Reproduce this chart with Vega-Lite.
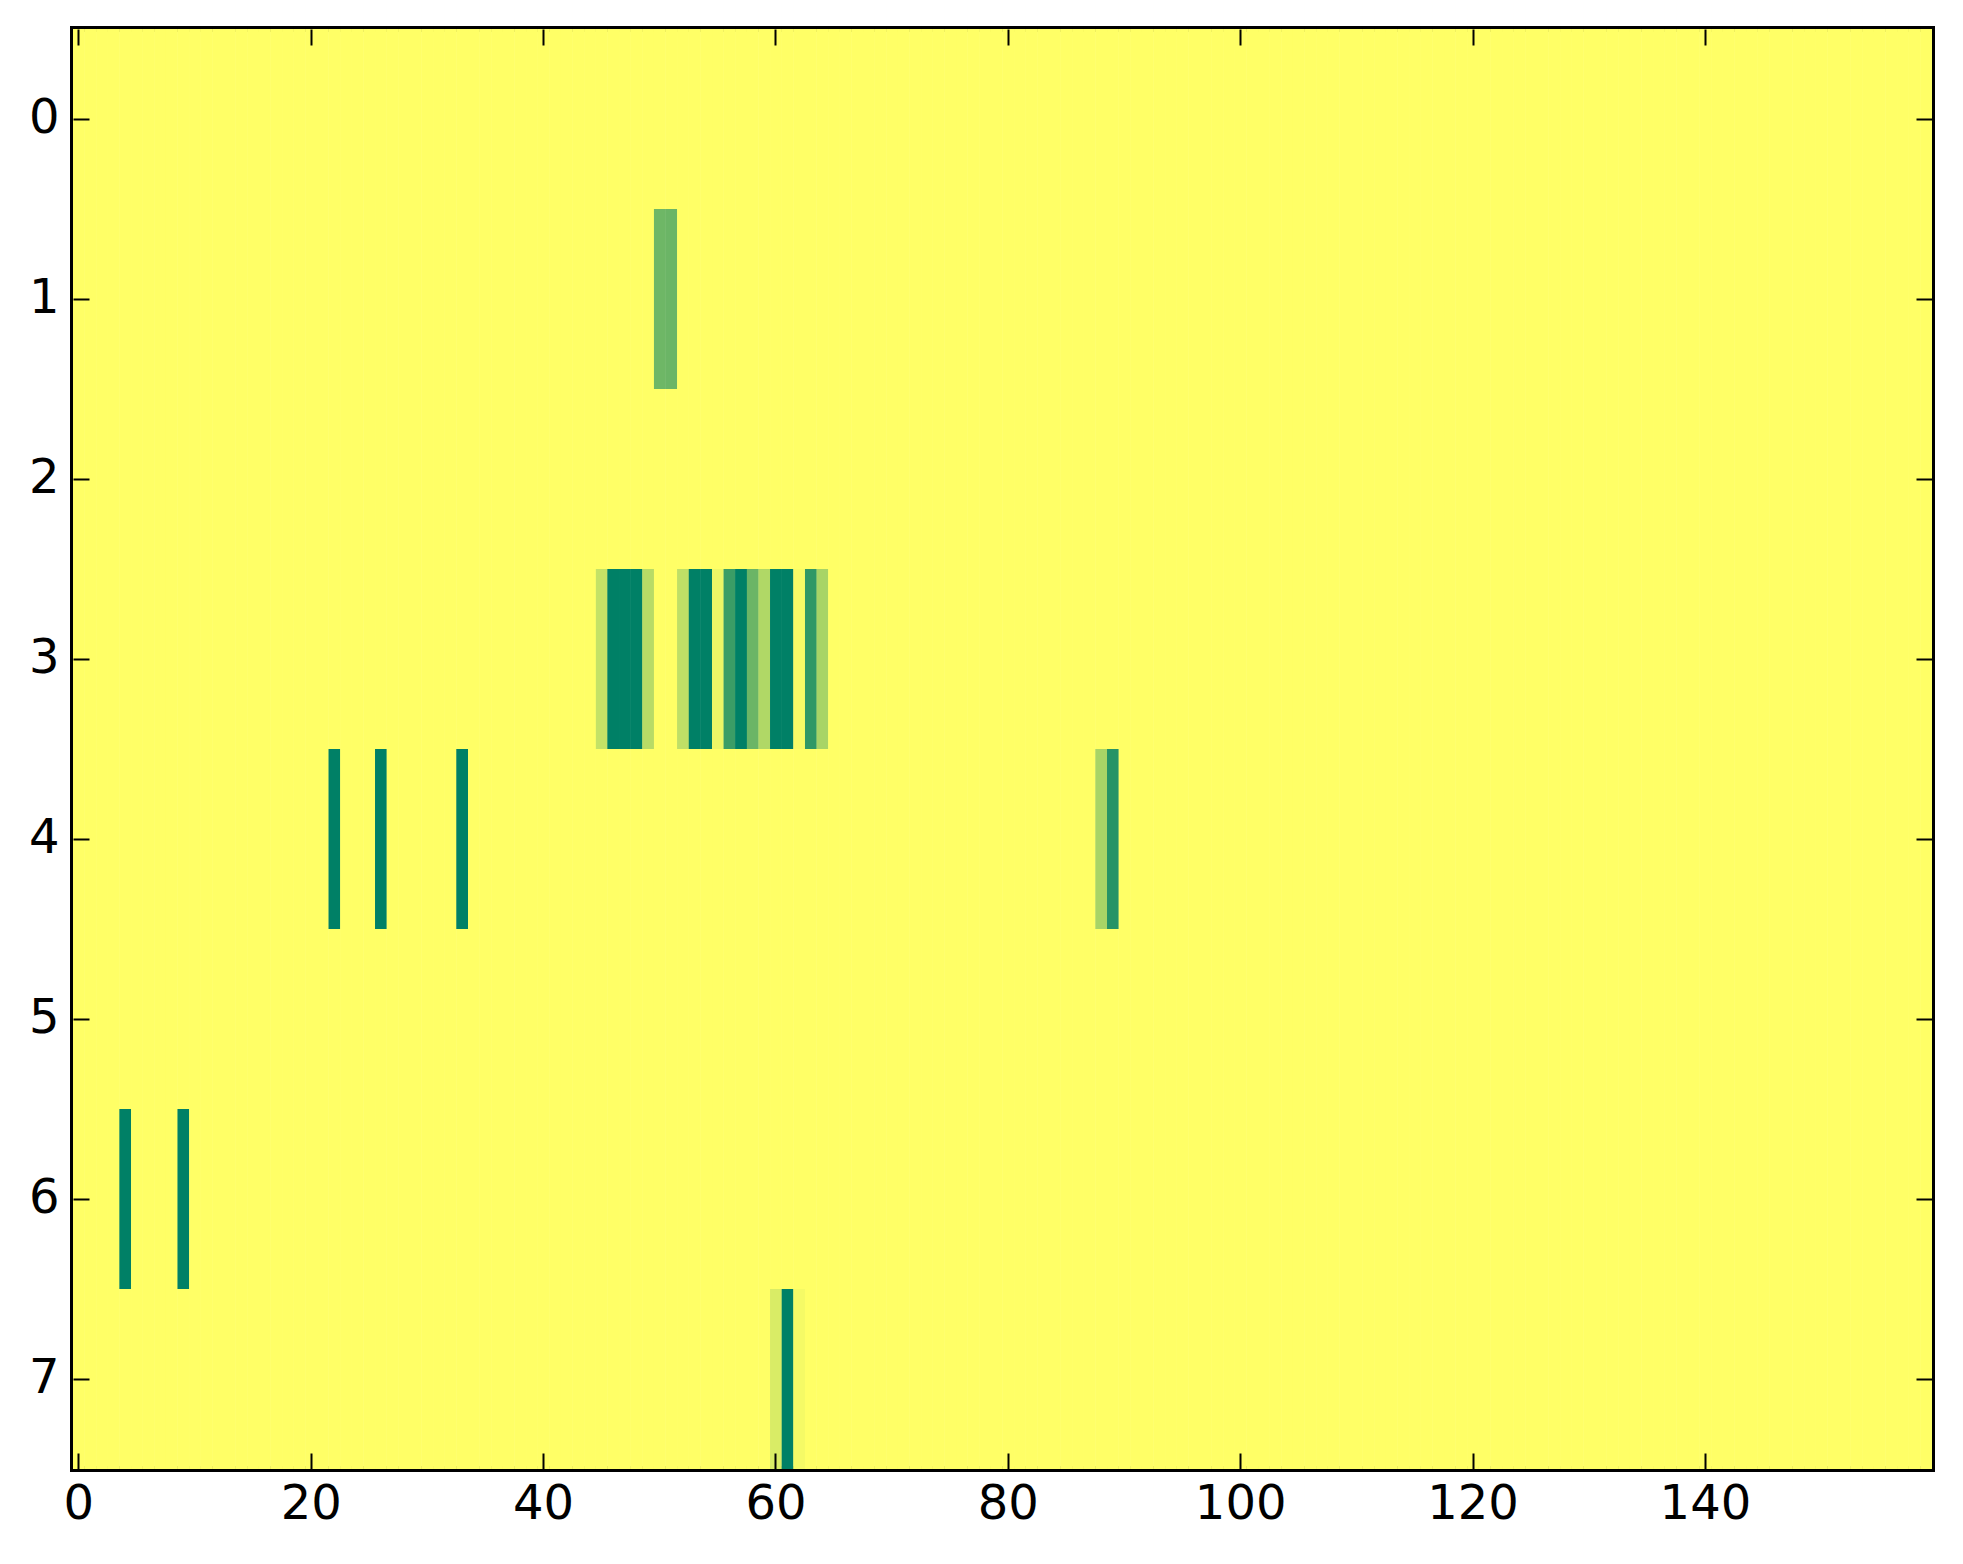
{
  "$schema": "https://vega.github.io/schema/vega-lite/v6.json",
  "width": 1859,
  "height": 1440,
  "autosize": "none",
  "padding": {"left": 73, "top": 29, "right": 31, "bottom": 95},
  "background": "white",
  "config": {
    "view": {"stroke": "black", "strokeWidth": 6},
    "axis": {
      "domain": false,
      "grid": false,
      "tickColor": "black",
      "tickWidth": 2,
      "tickSize": -16,
      "labelFont": "DejaVu Sans",
      "labelFontSize": 48,
      "labelColor": "black",
      "title": null
    }
  },
  "data": {
    "values": [
      {"r": 0, "v": [0,0,0,0,0,0,0,0,0,0, 0,0,0,0,0,0,0,0,0,0, 0,0,0,0,0,0,0,0,0,0, 0,0,0,0,0,0,0,0,0,0, 0,0,0,0,0,0,0,0,0,0, 0,0,0,0,0,0,0,0,0,0, 0,0,0,0,0,0,0,0,0,0, 0,0,0,0,0,0,0,0,0,0, 0,0,0,0,0,0,0,0,0,0, 0,0,0,0,0,0,0,0,0,0, 0,0,0,0,0,0,0,0,0,0, 0,0,0,0,0,0,0,0,0,0, 0,0,0,0,0,0,0,0,0,0, 0,0,0,0,0,0,0,0,0,0, 0,0,0,0,0,0,0,0,0,0, 0,0,0,0,0,0,0,0,0,0]},
      {"r": 1, "v": [0,0,0,0,0,0,0,0,0,0, 0,0,0,0,0,0,0,0,0,0, 0,0,0,0,0,0,0,0,0,0, 0,0,0,0,0,0,0,0,0,0, 0,0,0,0,0,0,0,0,0,0, 0.57,0.58,0,0,0,0,0,0,0,0, 0,0,0,0,0,0,0,0,0,0, 0,0,0,0,0,0,0,0,0,0, 0,0,0,0,0,0,0,0,0,0, 0,0,0,0,0,0,0,0,0,0, 0,0,0,0,0,0,0,0,0,0, 0,0,0,0,0,0,0,0,0,0, 0,0,0,0,0,0,0,0,0,0, 0,0,0,0,0,0,0,0,0,0, 0,0,0,0,0,0,0,0,0,0, 0,0,0,0,0,0,0,0,0,0]},
      {"r": 2, "v": [0,0,0,0,0,0,0,0,0,0, 0,0,0,0,0,0,0,0,0,0, 0,0,0,0,0,0,0,0,0,0, 0,0,0,0,0,0,0,0,0,0, 0,0,0,0,0,0,0,0,0,0, 0,0,0,0,0,0,0,0,0,0, 0,0,0,0,0,0,0,0,0,0, 0,0,0,0,0,0,0,0,0,0, 0,0,0,0,0,0,0,0,0,0, 0,0,0,0,0,0,0,0,0,0, 0,0,0,0,0,0,0,0,0,0, 0,0,0,0,0,0,0,0,0,0, 0,0,0,0,0,0,0,0,0,0, 0,0,0,0,0,0,0,0,0,0, 0,0,0,0,0,0,0,0,0,0, 0,0,0,0,0,0,0,0,0,0]},
      {"r": 3, "v": [0,0,0,0,0,0,0,0,0,0, 0,0,0,0,0,0,0,0,0,0, 0,0,0,0,0,0,0,0,0,0, 0,0,0,0,0,0,0,0,0,0, 0,0,0,0,0,0.23,1,1,1,0.28, 0,0,0.25,1,1,0.07,0.77,1,0.58,0.31, 1,1,0.03,0.81,0.34,0,0,0,0,0, 0,0,0,0,0,0,0,0,0,0, 0,0,0,0,0,0,0,0,0,0, 0,0,0,0,0,0,0,0,0,0, 0,0,0,0,0,0,0,0,0,0, 0,0,0,0,0,0,0,0,0,0, 0,0,0,0,0,0,0,0,0,0, 0,0,0,0,0,0,0,0,0,0, 0,0,0,0,0,0,0,0,0,0, 0,0,0,0,0,0,0,0,0,0]},
      {"r": 4, "v": [0,0,0,0,0,0,0,0,0,0, 0,0,0,0,0,0,0,0,0,0, 0,0,1,0,0,0,1,0,0,0, 0,0,0,1,0,0,0,0,0,0, 0,0,0,0,0,0,0,0,0,0, 0,0,0,0,0,0,0,0,0,0, 0,0,0,0,0,0,0,0,0,0, 0,0,0,0,0,0,0,0,0,0, 0,0,0,0,0,0,0,0,0.34,0.85, 0,0,0,0,0,0,0,0,0,0, 0,0,0,0,0,0,0,0,0,0, 0,0,0,0,0,0,0,0,0,0, 0,0,0,0,0,0,0,0,0,0, 0,0,0,0,0,0,0,0,0,0, 0,0,0,0,0,0,0,0,0,0, 0,0,0,0,0,0,0,0,0,0]},
      {"r": 5, "v": [0,0,0,0,0,0,0,0,0,0, 0,0,0,0,0,0,0,0,0,0, 0,0,0,0,0,0,0,0,0,0, 0,0,0,0,0,0,0,0,0,0, 0,0,0,0,0,0,0,0,0,0, 0,0,0,0,0,0,0,0,0,0, 0,0,0,0,0,0,0,0,0,0, 0,0,0,0,0,0,0,0,0,0, 0,0,0,0,0,0,0,0,0,0, 0,0,0,0,0,0,0,0,0,0, 0,0,0,0,0,0,0,0,0,0, 0,0,0,0,0,0,0,0,0,0, 0,0,0,0,0,0,0,0,0,0, 0,0,0,0,0,0,0,0,0,0, 0,0,0,0,0,0,0,0,0,0, 0,0,0,0,0,0,0,0,0,0]},
      {"r": 6, "v": [0,0,0,0,1,0,0,0,0,1, 0,0,0,0,0,0,0,0,0,0, 0,0,0,0,0,0,0,0,0,0, 0,0,0,0,0,0,0,0,0,0, 0,0,0,0,0,0,0,0,0,0, 0,0,0,0,0,0,0,0,0,0, 0,0,0,0,0,0,0,0,0,0, 0,0,0,0,0,0,0,0,0,0, 0,0,0,0,0,0,0,0,0,0, 0,0,0,0,0,0,0,0,0,0, 0,0,0,0,0,0,0,0,0,0, 0,0,0,0,0,0,0,0,0,0, 0,0,0,0,0,0,0,0,0,0, 0,0,0,0,0,0,0,0,0,0, 0,0,0,0,0,0,0,0,0,0, 0,0,0,0,0,0,0,0,0,0]},
      {"r": 7, "v": [0,0,0,0,0,0,0,0,0,0, 0,0,0,0,0,0,0,0,0,0, 0,0,0,0,0,0,0,0,0,0, 0,0,0,0,0,0,0,0,0,0, 0,0,0,0,0,0,0,0,0,0, 0,0,0,0,0,0,0,0,0,0, 0.15,1,0.04,0,0,0,0,0,0,0, 0,0,0,0,0,0,0,0,0,0, 0,0,0,0,0,0,0,0,0,0, 0,0,0,0,0,0,0,0,0,0, 0,0,0,0,0,0,0,0,0,0, 0,0,0,0,0,0,0,0,0,0, 0,0,0,0,0,0,0,0,0,0, 0,0,0,0,0,0,0,0,0,0, 0,0,0,0,0,0,0,0,0,0, 0,0,0,0,0,0,0,0,0,0]}
    ]
  },
  "transform": [
    {"flatten": ["v"], "as": ["v"]},
    {"window": [{"op": "row_number", "as": "n"}], "groupby": ["r"]},
    {"calculate": "datum.n - 1", "as": "c"}
  ],
  "layer": [
    {
      "mark": {"type": "rect", "strokeWidth": 0},
      "encoding": {
        "x": {"field": "c", "type": "ordinal", "sort": "ascending",
              "scale": {"paddingInner": 0, "paddingOuter": 0},
              "axis": {"orient": "bottom", "values": [0,20,40,60,80,100,120,140], "labelAngle": 0, "labelPadding": 27}},
        "y": {"field": "r", "type": "ordinal", "sort": "ascending",
              "scale": {"paddingInner": 0, "paddingOuter": 0},
              "axis": {"orient": "left", "labelPadding": 30}},
        "color": {"field": "v", "type": "quantitative",
                  "scale": {"domain": [0, 1], "range": ["#ffff66", "#008066"], "interpolate": "rgb"},
                  "legend": null}
      }
    },
    {
      "mark": {"type": "rect", "strokeWidth": 0},
      "encoding": {
        "x": {"field": "c", "type": "ordinal", "sort": "ascending",
              "axis": {"orient": "top", "values": [0,20,40,60,80,100,120,140], "labels": false}},
        "y": {"field": "r", "type": "ordinal", "sort": "ascending",
              "axis": {"orient": "right", "labels": false}},
        "color": {"field": "v", "type": "quantitative", "legend": null}
      }
    }
  ],
  "resolve": {"axis": {"x": "independent", "y": "independent"}}
}
